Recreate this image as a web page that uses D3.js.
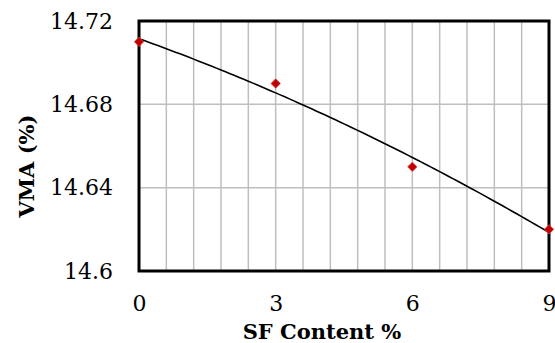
<!DOCTYPE html>
<html><head><meta charset="utf-8">
<script src="https://cdn.jsdelivr.net/npm/d3@7"></script>
<style>body{margin:0;background:#fff}svg{display:block}</style>
</head><body>
<script>
const sfContent = [0, 3, 6, 9];
const vma = [14.71, 14.69, 14.65, 14.62];
const xTicks = [0, 3, 6, 9];
const yTicks = [14.6, 14.64, 14.68, 14.72];
const xGridStep = 0.6;

const W = 555, H = 343;
const m = {left: 139, right: 6, top: 21, bottom: 72};
const svg = d3.select("body").append("svg").attr("width", W).attr("height", H);
const x = d3.scaleLinear().domain([0, 9]).range([m.left, W - m.right]);
const y = d3.scaleLinear().domain([14.6, 14.72]).range([H - m.bottom, m.top]);

// gridlines
const vGrid = d3.range(0, 9 + 1e-9, xGridStep);
svg.append("g").selectAll("line").data(vGrid).join("line")
  .attr("x1", d => x(d)).attr("x2", d => x(d))
  .attr("y1", y(14.6)).attr("y2", y(14.72))
  .attr("stroke", "#bfbfbf").attr("stroke-width", 1.5);
svg.append("g").selectAll("line").data(yTicks).join("line")
  .attr("x1", x(0)).attr("x2", x(9))
  .attr("y1", d => y(d)).attr("y2", d => y(d))
  .attr("stroke", "#bfbfbf").attr("stroke-width", 1.5);

// quadratic least-squares trendline from data
function polyfit2(xs, ys) {
  const n = xs.length;
  let S = [0,0,0,0,0], T = [0,0,0];
  for (let i = 0; i < n; i++) {
    for (let k = 0; k < 5; k++) S[k] += Math.pow(xs[i], k);
    for (let k = 0; k < 3; k++) T[k] += ys[i] * Math.pow(xs[i], k);
  }
  const A = [[S[0],S[1],S[2],T[0]],[S[1],S[2],S[3],T[1]],[S[2],S[3],S[4],T[2]]];
  for (let i = 0; i < 3; i++) {
    for (let j = i + 1; j < 3; j++) {
      const f = A[j][i] / A[i][i];
      for (let k = i; k < 4; k++) A[j][k] -= f * A[i][k];
    }
  }
  const c = [0,0,0];
  for (let i = 2; i >= 0; i--) {
    let s = A[i][3];
    for (let k = i + 1; k < 3; k++) s -= A[i][k] * c[k];
    c[i] = s / A[i][i];
  }
  return c;
}
const c = polyfit2(sfContent, vma);
const trendX = d3.range(0, 9.0001, 0.1);
svg.append("path")
  .datum(trendX)
  .attr("fill", "none").attr("stroke", "#000").attr("stroke-width", 1.6)
  .attr("d", d3.line().x(d => x(d)).y(d => y(c[0] + c[1]*d + c[2]*d*d)));

// frame
svg.append("rect")
  .attr("x", x(0)).attr("y", y(14.72))
  .attr("width", x(9) - x(0)).attr("height", y(14.6) - y(14.72))
  .attr("fill", "none").attr("stroke", "#000").attr("stroke-width", 3);

// markers
svg.append("g").selectAll("path").data(sfContent).join("path")
  .attr("transform", (d, i) => `translate(${x(d)},${y(vma[i])})`)
  .attr("d", d3.symbol().type(d3.symbolDiamond2).size(56))
  .attr("fill", "#c00000").attr("stroke", "#e04040").attr("stroke-width", 0.8);

// axes (labels only)
const font = "'DejaVu Serif', serif";
const yAxis = d3.axisLeft(y).tickValues(yTicks).tickFormat(d => String(+d.toFixed(2))).tickSize(0).tickPadding(26);
svg.append("g").attr("transform", `translate(${x(0)},0)`).call(yAxis)
  .call(g => g.select(".domain").remove())
  .selectAll("text").attr("font-family", font).attr("font-size", 22).attr("fill", "#000");
const xAxis = d3.axisBottom(x).tickValues(xTicks).tickFormat(d3.format("d")).tickSize(0).tickPadding(24);
svg.append("g").attr("transform", `translate(0,${y(14.6)})`).call(xAxis)
  .call(g => g.select(".domain").remove())
  .selectAll("text").attr("font-family", font).attr("font-size", 22).attr("fill", "#000");

// titles
svg.append("text").attr("x", 322).attr("y", 339).attr("text-anchor", "middle")
  .attr("font-family", font).attr("font-weight", "bold").attr("font-size", 21)
  .text("SF Content %");
svg.append("text").attr("transform", "translate(34,166) rotate(-90)").attr("text-anchor", "middle")
  .attr("font-family", font).attr("font-weight", "bold").attr("font-size", 21)
  .text("VMA (%)");
</script>
</body></html>
